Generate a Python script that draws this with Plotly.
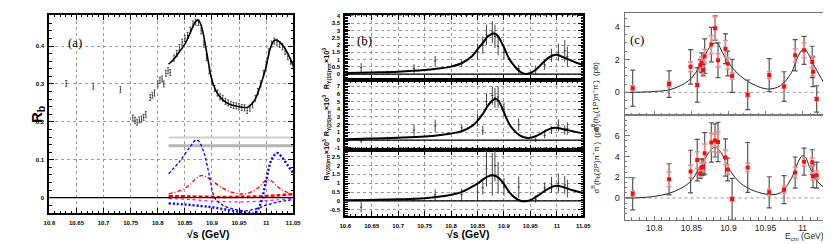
import plotly.graph_objects as go

# ---------------- DATA ----------------
# Panel (a): R_b scan
a_x = [10.631, 10.681, 10.731,
       10.754, 10.758, 10.762, 10.766, 10.770, 10.774, 10.778, 10.786, 10.790, 10.794,
       10.800, 10.804, 10.808, 10.811, 10.815, 10.819, 10.823,
       10.830, 10.835, 10.840, 10.845, 10.850, 10.855, 10.860, 10.865, 10.870, 10.875,
       10.880, 10.885, 10.890, 10.895, 10.900, 10.905, 10.910, 10.915, 10.920, 10.925,
       10.930, 10.935, 10.940, 10.945, 10.950, 10.955, 10.960, 10.965, 10.970, 10.975,
       10.980, 10.985, 10.990, 10.995, 11.000, 11.005, 11.010, 11.015, 11.020, 11.025,
       11.030, 11.035, 11.040, 11.045, 11.050]
a_y = [0.301, 0.294, 0.285,
       0.210, 0.204, 0.199, 0.205, 0.207, 0.212, 0.219, 0.264, 0.270, 0.276,
       0.300, 0.310, 0.313, 0.300, 0.328, 0.335, 0.330,
       0.368, 0.380, 0.396, 0.410, 0.420, 0.428, 0.442, 0.458, 0.463, 0.462,
       0.440, 0.405, 0.370, 0.335, 0.305, 0.288, 0.276, 0.266, 0.262, 0.254,
       0.250, 0.246, 0.243, 0.242, 0.240, 0.238, 0.237, 0.230, 0.236, 0.245,
       0.262, 0.280, 0.300, 0.328, 0.352, 0.385, 0.405, 0.413, 0.410, 0.404,
       0.398, 0.386, 0.372, 0.360, 0.348]
a_fit_x = [10.82, 10.83, 10.84, 10.85, 10.86, 10.865, 10.87, 10.875, 10.88, 10.885, 10.89,
           10.895, 10.90, 10.91, 10.92, 10.93, 10.94, 10.95, 10.96, 10.965, 10.97, 10.98,
           10.99, 11.00, 11.005, 11.01, 11.015, 11.02, 11.03, 11.04, 11.05]
a_fit_y = [0.352, 0.366, 0.385, 0.405, 0.435, 0.452, 0.465, 0.468, 0.455, 0.425, 0.385,
           0.345, 0.310, 0.275, 0.258, 0.248, 0.243, 0.240, 0.238, 0.238, 0.242, 0.260,
           0.298, 0.345, 0.380, 0.403, 0.415, 0.415, 0.403, 0.380, 0.348]
a_blue1_x = [10.82, 10.84, 10.86, 10.87, 10.875, 10.885, 10.895, 10.905, 10.92, 10.94,
             10.96, 10.98, 11.00, 11.02, 11.05]
a_blue1_y = [0.063, 0.095, 0.135, 0.152, 0.150, 0.120, 0.060, 0.000, -0.020, -0.030,
             -0.035, -0.030, -0.020, -0.012, -0.005]
a_blue2_x = [10.82, 10.85, 10.88, 10.90, 10.92, 10.94, 10.96, 10.97, 10.98, 10.99, 11.00,
             11.01, 11.02, 11.03, 11.04, 11.05]
a_blue2_y = [-0.015, -0.018, -0.022, -0.025, -0.030, -0.035, -0.040, -0.042, -0.040,
             -0.015, 0.045, 0.100, 0.118, 0.105, 0.085, 0.065]
a_red1_x = [10.82, 10.84, 10.86, 10.87, 10.88, 10.89, 10.90, 10.92, 10.94, 10.96, 10.98,
            10.99, 11.00, 11.01, 11.02, 11.03, 11.05]
a_red1_y = [0.010, 0.018, 0.035, 0.050, 0.058, 0.055, 0.045, 0.025, 0.013, 0.010, 0.020,
            0.032, 0.046, 0.044, 0.030, 0.020, 0.008]
a_red2_x = [10.82, 10.86, 10.90, 10.94, 10.98, 11.02, 11.05]
a_red2_y = [0.004, 0.003, 0.002, 0.002, 0.003, 0.006, 0.009]
a_mag_x = [10.82, 10.86, 10.90, 10.94, 10.98, 11.02, 11.05]
a_mag_y = [-0.002, -0.005, -0.009, -0.011, -0.010, -0.006, -0.002]
a_gray_x = [10.82, 11.05]
a_gray1_y = [0.159, 0.159]
a_gray2_y = [0.137, 0.137]
a_xticks = [10.6, 10.65, 10.7, 10.75, 10.8, 10.85, 10.9, 10.95, 11.0, 11.05]
a_xlabels = ["10.6", "10.65", "10.7", "10.75", "10.8", "10.85", "10.9", "10.95", "11", "11.05"]
a_yticks = [0, 0.1, 0.2, 0.3, 0.4]
a_ylabels = ["0", "0.1", "0.2", "0.3", "0.4"]

# Panel (b): R_{Y(nS)pipi} x 10^3
b_x = [10.63, 10.68, 10.73, 10.77, 10.82, 10.85, 10.86, 10.867, 10.878, 10.883, 10.889,
       10.90, 10.928, 10.96, 10.977, 10.99, 11.003, 11.015, 11.02]
b1_y = [0.45, 0.14, 0.39, 0.90, 0.75, 1.55, 2.00, 2.70, 2.90, 2.60, 1.90, 1.50, 0.35,
        0.30, 0.65, 1.30, 1.50, 1.60, 1.20]
b1_e = [0.32, 0.10, 0.30, 0.35, 0.25, 0.55, 0.60, 0.70, 0.75, 0.80, 0.60, 0.50, 0.30,
        0.30, 0.35, 0.45, 0.60, 0.75, 0.70]
b2_y = [-0.10, 0.20, 1.30, 1.85, 1.60, 2.60, 1.25, 5.00, 5.80, 5.50, 5.60, 4.00, 2.00,
        0.00, 0.60, 1.30, 1.90, 1.30, 1.50]
b2_e = [0.30, 0.25, 0.75, 0.80, 0.45, 0.85, 0.60, 1.10, 1.20, 1.30, 1.40, 0.90, 0.80,
        0.25, 0.35, 0.50, 0.80, 0.60, 0.80]
b3_y = [-0.35, 0.05, 0.10, 0.35, 0.35, 0.50, 0.75, 1.80, 1.50, 2.00, 1.30, 0.80, 0.78,
        0.10, 0.75, 0.90, 1.00, 0.90, 0.70]
b3_e = [0.30, 0.05, 0.10, 0.30, 0.35, 0.45, 0.40, 1.00, 1.20, 0.90, 0.90, 0.50, 0.60,
        0.20, 0.30, 0.45, 0.55, 0.50, 0.50]
b_fit_x = [10.60, 10.65, 10.70, 10.75, 10.78, 10.80, 10.82, 10.84, 10.85, 10.86, 10.87,
           10.88, 10.885, 10.89, 10.90, 10.91, 10.92, 10.93, 10.94, 10.95, 10.96, 10.97,
           10.98, 10.99, 11.00, 11.01, 11.02, 11.03, 11.04, 11.05]
b1_fit = [0.08, 0.12, 0.17, 0.28, 0.40, 0.52, 0.75, 1.25, 1.70, 2.15, 2.60, 2.80, 2.75,
          2.55, 1.85, 1.05, 0.55, 0.18, 0.02, 0.08, 0.30, 0.65, 1.00, 1.25, 1.33, 1.20,
          1.05, 0.90, 0.75, 0.65]
b2_fit = [0.12, 0.20, 0.30, 0.45, 0.65, 0.85, 1.15, 1.85, 2.50, 3.40, 4.50, 5.25, 5.35,
          5.10, 3.60, 2.10, 1.20, 0.60, 0.32, 0.30, 0.50, 0.85, 1.25, 1.55, 1.60, 1.45,
          1.30, 1.15, 1.00, 0.88]
b3_fit = [0.04, 0.06, 0.09, 0.15, 0.25, 0.35, 0.50, 0.80, 0.98, 1.20, 1.38, 1.44, 1.40,
          1.30, 0.95, 0.50, 0.20, 0.03, -0.02, 0.05, 0.22, 0.42, 0.62, 0.78, 0.85, 0.80,
          0.70, 0.60, 0.52, 0.46]
b1_yticks = [0, 0.5, 1, 1.5, 2, 2.5, 3, 3.5, 4]
b1_ylabels = ["0", "0.5", "1", "1.5", "2", "2.5", "3", "3.5", "4"]
b2_yticks = [-1, 0, 1, 2, 3, 4, 5, 6, 7]
b2_ylabels = ["-1", "0", "1", "2", "3", "4", "5", "6", "7"]
b3_yticks = [-0.5, 0, 0.5, 1, 1.5, 2, 2.5]
b3_ylabels = ["-0.5", "0", "0.5", "1", "1.5", "2", "2.5"]

# Panel (c): sigma^B(h_b(nP) pi+ pi-)
c_x = [10.771, 10.820, 10.849, 10.858, 10.862, 10.864, 10.866, 10.868, 10.877, 10.882,
       10.886, 10.896, 10.899, 10.905, 10.926, 10.955, 10.975, 10.990, 11.002, 11.013,
       11.014, 11.019]
c1_y = [0.25, 0.50, 1.55, 0.45, 1.65, 1.80, 1.35, 2.20, 2.90, 3.90, 1.95, 2.65, 1.75,
        1.00, -0.15, 1.05, 0.35, 2.25, 2.55, 1.85, 1.25, -0.40]
c1_e = [1.10, 0.80, 1.05, 1.05, 0.35, 0.60, 0.35, 1.05, 1.05, 0.75, 1.05, 0.90, 0.75,
        1.00, 0.90, 1.00, 0.90, 0.95, 0.85, 0.95, 0.90, 0.80]
c1_s = [0.15, 0.15, 0.30, 0.10, 0.30, 0.35, 0.25, 0.40, 0.55, 0.70, 0.40, 0.50, 0.35,
        0.20, 0.10, 0.20, 0.10, 0.40, 0.45, 0.35, 0.25, 0.10]
c2_y = [0.40, 1.80, 2.55, 3.65, 2.35, 2.95, 3.00, 4.30, 5.35, 5.55, 5.40, 3.90, 2.75,
        -0.10, 2.95, 0.55, 0.80, 2.45, 3.50, 3.45, 2.10, 2.20]
c2_e = [1.55, 1.50, 2.05, 2.00, 0.45, 0.80, 0.80, 2.00, 1.90, 1.60, 1.90, 1.80, 1.10,
        2.00, 2.40, 1.50, 1.35, 1.50, 1.30, 1.20, 1.10, 1.25]
c2_s = [0.25, 0.70, 0.60, 0.80, 0.35, 0.40, 0.45, 0.90, 0.90, 0.60, 1.00, 0.70, 0.45,
        0.20, 0.40, 0.30, 0.30, 0.50, 0.40, 0.40, 0.35, 0.40]
c1_fit_x = [10.762, 10.771, 10.800, 10.820, 10.835, 10.846, 10.856, 10.866, 10.874, 10.881,
            10.886, 10.890, 10.900, 10.916, 10.933, 10.953, 10.970, 10.985, 10.993, 11.000,
            11.003, 11.008, 11.017, 11.029]
c1_fit_y = [0.00, 0.00, 0.05, 0.15, 0.40, 0.70, 1.20, 2.00, 2.70, 3.00, 2.95, 2.60, 1.80,
            1.00, 0.50, 0.20, 0.40, 1.20, 2.10, 2.60, 2.62, 2.30, 1.50, 0.55]
c2_fit_x = [10.762, 10.771, 10.800, 10.820, 10.835, 10.849, 10.866, 10.876, 10.882, 10.890,
            10.900, 10.916, 10.936, 10.955, 10.970, 10.985, 10.993, 10.999, 11.003, 11.010,
            11.020, 11.029]
c2_fit_y = [0.00, 0.00, 0.15, 0.45, 0.90, 1.60, 3.50, 4.60, 4.90, 4.40, 2.90, 1.45, 0.65,
            0.35, 0.50, 1.90, 3.30, 4.05, 4.00, 2.90, 1.60, 1.00]
c_xticks = [10.8, 10.85, 10.9, 10.95, 11.0]
c_xlabels = ["10.8", "10.85", "10.9", "10.95", "11"]
c1_yticks = [0, 2, 4]
c2_yticks = [0, 2, 4, 6]

# ---------------- LAYOUT HELPERS ----------------
W, H = 831, 244


def xd(l, r):
    return [l / W, r / W]


def yd(top, bot):
    return [1 - bot / H, 1 - top / H]


def px(x):
    return x / W


def py(y):
    return 1 - y / H


BOLD = dict(family="Liberation Sans", size=6, color="black", weight="bold")
CFONT = dict(family="Liberation Sans", size=9, color="#222")
CXFONT = dict(family="Liberation Sans", size=8.5, color="#222")


def root_axis(domain, rng, anchor, tickvals=None, ticktext=None, minor=None,
              labels=True, font=BOLD, lw=2, color="black", grid=True, mirror="allticks",
              ticklen=5, standoff=2):
    d = dict(domain=domain, range=rng, anchor=anchor, showline=True, linewidth=lw,
             linecolor=color, mirror=mirror, ticks="inside", ticklen=ticklen,
             tickwidth=1, tickcolor=color, showgrid=grid, gridcolor="#9a9a9a",
             griddash="dot", gridwidth=0.8, zeroline=False, tickfont=font,
             showticklabels=labels, tickmode="array", tickvals=tickvals,
             ticktext=ticktext, ticklabelstandoff=standoff)
    if minor is not None:
        d["minor"] = dict(dtick=minor, ticks="inside", ticklen=2.5, tickcolor=color,
                          showgrid=False)
    return d


fig = go.Figure()

# ---------------- PANEL (a) ----------------
fig.add_trace(go.Scatter(x=a_gray_x, y=a_gray1_y, mode="lines",
                         line=dict(color="#cfcfcf", width=2), xaxis="x", yaxis="y"))
fig.add_trace(go.Scatter(x=a_gray_x, y=a_gray2_y, mode="lines",
                         line=dict(color="#b5b5b5", width=3), xaxis="x", yaxis="y"))
fig.add_trace(go.Scatter(x=a_x, y=a_y, mode="markers",
                         marker=dict(size=1, color="black"),
                         error_y=dict(type="constant", value=0.008, color="#333",
                                      thickness=0.8, width=1),
                         xaxis="x", yaxis="y"))
fig.add_trace(go.Scatter(x=a_fit_x, y=a_fit_y, mode="lines", line_shape="spline",
                         line=dict(color="black", width=1.6), xaxis="x", yaxis="y"))
fig.add_trace(go.Scatter(x=a_red2_x, y=a_red2_y, mode="lines", line_shape="spline",
                         line=dict(color="#ff0000", width=2.5, dash="4px,2px"),
                         xaxis="x", yaxis="y"))
fig.add_trace(go.Scatter(x=a_mag_x, y=a_mag_y, mode="lines", line_shape="spline",
                         line=dict(color="#ff00ff", width=1.2, dash="3px,3px"),
                         xaxis="x", yaxis="y"))
fig.add_trace(go.Scatter(x=a_red1_x, y=a_red1_y, mode="lines", line_shape="spline",
                         line=dict(color="#ff0000", width=1.3, dash="4px,2px,1px,2px"),
                         xaxis="x", yaxis="y"))
fig.add_trace(go.Scatter(x=a_blue1_x, y=a_blue1_y, mode="lines", line_shape="spline",
                         line=dict(color="#0000ff", width=1.3, dash="3px,2px"),
                         xaxis="x", yaxis="y"))
fig.add_trace(go.Scatter(x=a_blue2_x, y=a_blue2_y, mode="lines", line_shape="spline",
                         line=dict(color="#0000ff", width=2.4, dash="2px,2px"),
                         xaxis="x", yaxis="y"))

# ---------------- PANEL (b) ----------------
b_sets = [("x2", "y2", b1_y, b1_e, b1_fit), ("x3", "y3", b2_y, b2_e, b2_fit),
          ("x4", "y4", b3_y, b3_e, b3_fit)]
for xa, ya, yv, ev, fv in b_sets:
    fig.add_trace(go.Scatter(x=b_x, y=yv, mode="markers",
                             marker=dict(size=1, color="#333"),
                             error_y=dict(type="data", array=ev, color="#444",
                                          thickness=1, width=0),
                             error_x=dict(type="constant", value=0.002, color="#444",
                                          thickness=1, width=0),
                             xaxis=xa, yaxis=ya))
    fig.add_trace(go.Scatter(x=b_fit_x, y=fv, mode="lines", line_shape="spline",
                             line=dict(color="black", width=2), xaxis=xa, yaxis=ya))

# ---------------- PANEL (c) ----------------
c_sets = [("x5", "y5", c1_y, c1_e, c1_s, c1_fit_x, c1_fit_y),
          ("x6", "y6", c2_y, c2_e, c2_s, c2_fit_x, c2_fit_y)]
for xa, ya, yv, ev, sv, fx, fy in c_sets:
    fig.add_trace(go.Scatter(x=[10.76, 11.03], y=[0, 0], mode="lines",
                             line=dict(color="#999", width=1, dash="3px,3px"),
                             xaxis=xa, yaxis=ya))
    fig.add_trace(go.Scatter(x=fx, y=fy, mode="lines", line_shape="spline",
                             line=dict(color="#222", width=1), xaxis=xa, yaxis=ya))
    fig.add_trace(go.Scatter(x=c_x, y=yv, mode="markers",
                             marker=dict(size=1, color="#444"),
                             error_y=dict(type="data", array=ev, color="#555",
                                          thickness=1.2, width=2.5),
                             xaxis=xa, yaxis=ya))
    fig.add_trace(go.Scatter(x=c_x, y=yv, mode="markers",
                             marker=dict(size=4, color="#ee1111", symbol="square"),
                             error_y=dict(type="data", array=sv, color="#f08a8a",
                                          thickness=1.6, width=2.5),
                             xaxis=xa, yaxis=ya))

# ---------------- AXES ----------------
A_L, A_R, A_T, A_B = 36, 284, 5, 206
B_L, B_R = 337, 579
B_T, B_1, B_2, B_B = 5, 71, 141.7, 209
C_L, C_R, C_T, C_M, C_B = 621, 824, 2.7, 106.7, 212.3

layout = dict(
    width=W, height=H, margin=dict(l=0, r=0, t=0, b=0),
    paper_bgcolor="white", plot_bgcolor="white", showlegend=False,
    xaxis=root_axis(xd(A_L, A_R), [10.6, 11.05], "y", a_xticks, a_xlabels, minor=0.01),
    yaxis=root_axis(yd(A_T, A_B), [-0.0417, 0.482], "x", a_yticks, a_ylabels, minor=0.02),
    xaxis2=root_axis(xd(B_L, B_R), [10.6, 11.05], "y2", a_xticks, a_xlabels, minor=0.01,
                     labels=False),
    yaxis2=root_axis(yd(B_T, B_1), [-0.41, 4.07], "x2", b1_yticks, b1_ylabels, minor=0.1),
    xaxis3=root_axis(xd(B_L, B_R), [10.6, 11.05], "y3", a_xticks, a_xlabels, minor=0.01,
                     labels=False),
    yaxis3=root_axis(yd(B_1, B_2), [-1.29, 7.8], "x3", b2_yticks, b2_ylabels, minor=0.2),
    xaxis4=root_axis(xd(B_L, B_R), [10.6, 11.05], "y4", a_xticks, a_xlabels, minor=0.01),
    yaxis4=root_axis(yd(B_2, B_B), [-0.87, 2.87], "x4", b3_yticks, b3_ylabels, minor=0.1),
    xaxis5=root_axis(xd(C_L, C_R), [10.760, 11.029], "y5", c_xticks, c_xlabels,
                     minor=0.01, labels=False, font=CXFONT, lw=1, color="#777",
                     grid=False, mirror=True, ticklen=4),
    yaxis5=root_axis(yd(C_T, C_M), [-1.4, 4.84], "x5", c1_yticks,
                     [str(v) for v in c1_yticks], minor=0.5, font=CFONT, lw=1,
                     color="#777", grid=False, mirror=True, ticklen=5),
    xaxis6=root_axis(xd(C_L, C_R), [10.760, 11.029], "y6", c_xticks, c_xlabels,
                     minor=0.01, font=CXFONT, lw=1, color="#777", grid=False,
                     mirror=True, ticklen=4, standoff=0),
    yaxis6=root_axis(yd(C_M, C_B), [-2.09, 7.96], "x6", c2_yticks,
                     [str(v) for v in c2_yticks], minor=0.5, font=CFONT, lw=1,
                     color="#777", grid=False, mirror=True, ticklen=5),
)
fig.update_layout(**layout)

# zero lines (panels a, b)
shapes = []
for xr, yr in [("x", "y"), ("x2", "y2"), ("x3", "y3"), ("x4", "y4")]:
    shapes.append(dict(type="line", xref=xr + " domain", yref=yr, x0=0, x1=1, y0=0, y1=0,
                       line=dict(color="black", width=1.3)))
fig.update_layout(shapes=shapes)

# ---------------- TEXT ----------------
ann = []
ann.append(dict(x=px(12), y=py(106), text="R<sub>b</sub>", textangle=-90,
                font=dict(family="Liberation Sans", size=15, color="black", weight="bold")))
ann.append(dict(x=px(174), y=py(235), text="√s (GeV)",
                font=dict(family="Liberation Sans", size=10.5, color="black", weight="bold")))
ann.append(dict(x=px(462), y=py(235), text="√s (GeV)",
                font=dict(family="Liberation Sans", size=10.5, color="black", weight="bold")))
bfont = dict(family="Liberation Sans", size=7.3, color="black", weight="bold")
ann.append(dict(x=px(318), y=py(36), text="R<sub>Υ(1S)ππ</sub>×10<sup>3</sup>",
                textangle=-90, font=bfont))
ann.append(dict(x=px(318), y=py(107), text="R<sub>Υ(2S)ππ</sub>×10<sup>3</sup>",
                textangle=-90, font=bfont))
ann.append(dict(x=px(318), y=py(175), text="R<sub>Υ(3S)ππ</sub>×10<sup>3</sup>",
                textangle=-90, font=bfont))
cfont = dict(family="Liberation Sans", size=7.8, color="#222")
ann.append(dict(x=px(599), y=py(50),
                text="σ<sup>B</sup>(h<sub>b</sub>(1P)π<sup>+</sup>π<sup>-</sup>)  (pb)",
                textangle=-90, font=cfont))
ann.append(dict(x=px(599), y=py(150),
                text="σ<sup>B</sup>(h<sub>b</sub>(2P)π<sup>+</sup>π<sup>-</sup>)  (pb)",
                textangle=-90, font=cfont))
ann.append(dict(x=px(826), y=py(237), text="E<sub>cm</sub> (GeV)", xanchor="right",
                font=dict(family="Liberation Sans", size=8.5, color="#222")))
tfont = dict(family="Liberation Serif", size=13, color="black")
ann.append(dict(x=px(53), y=py(23), text="(a)", font=tfont))
ann.append(dict(x=px(357), y=py(21), text="(b)", font=tfont))
ann.append(dict(x=px(643), y=py(20), text="(c)", font=tfont))
for a in ann:
    a.update(xref="paper", yref="paper", showarrow=False)
fig.update_layout(annotations=ann)

fig.write_html("out.html")
